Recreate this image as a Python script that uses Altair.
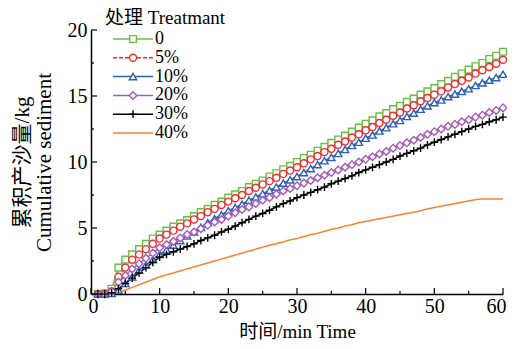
import altair as alt
import pandas as pd

time = list(range(1, 61))
labels = ["0", "5%", "10%", "20%", "30%", "40%"]
colors = ["#6cbd45", "#f42a2a", "#2f5fb3", "#a35bb4", "#000000", "#f7812f"]

s0 = [0.0, 0.05, 0.4, 2.0, 2.6, 3.0, 3.4, 3.8, 4.2, 4.5,
      4.8, 5.1, 5.35, 5.6, 5.9, 6.2, 6.45, 6.75, 7.0, 7.3,
      7.55, 7.8, 8.1, 8.35, 8.6, 8.9, 9.15, 9.45, 9.7, 10.0,
      10.3, 10.55, 10.85, 11.15, 11.45, 11.7, 12.0, 12.3, 12.6, 12.9,
      13.15, 13.45, 13.7, 14.0, 14.25, 14.55, 14.8, 15.1, 15.35, 15.6,
      15.9, 16.15, 16.45, 16.7, 17.0, 17.25, 17.5, 17.8, 18.05, 18.35]
s5 = [0.0, 0.0, 0.2, 1.3, 2.0, 2.6, 3.0, 3.4, 3.8, 4.2,
      4.5, 4.8, 5.1, 5.35, 5.65, 5.9, 6.2, 6.45, 6.75, 7.0,
      7.25, 7.5, 7.8, 8.05, 8.3, 8.55, 8.8, 9.1, 9.35, 9.6,
      9.9, 10.2, 10.45, 10.75, 11.0, 11.3, 11.55, 11.85, 12.1, 12.4,
      12.65, 12.95, 13.2, 13.5, 13.75, 14.05, 14.3, 14.6, 14.85, 15.1,
      15.35, 15.65, 15.9, 16.15, 16.4, 16.7, 16.95, 17.2, 17.45, 17.75]
s10 = [0.0, 0.0, 0.05, 0.3, 0.8, 1.3, 1.8, 2.2, 2.6, 3.0,
       3.35, 3.7, 4.05, 4.4, 4.7, 5.05, 5.4, 5.7, 6.0, 6.3,
       6.55, 6.8, 7.1, 7.35, 7.6, 7.85, 8.1, 8.4, 8.65, 8.9,
       9.2, 9.5, 9.8, 10.1, 10.35, 10.65, 10.95, 11.25, 11.5, 11.8,
       12.05, 12.35, 12.6, 12.9, 13.15, 13.45, 13.7, 14.0, 14.25, 14.5,
       14.7, 14.95, 15.15, 15.35, 15.55, 15.8, 16.0, 16.2, 16.4, 16.65]
s20 = [0.0, 0.0, 0.2, 0.9, 1.4, 1.9, 2.3, 2.7, 3.1, 3.5,
       3.75, 4.0, 4.25, 4.5, 4.7, 4.95, 5.2, 5.45, 5.65, 5.9,
       6.15, 6.4, 6.6, 6.85, 7.1, 7.3, 7.55, 7.8, 8.0, 8.2,
       8.4, 8.6, 8.8, 9.0, 9.2, 9.4, 9.6, 9.8, 10.0, 10.2,
       10.4, 10.6, 10.8, 11.05, 11.25, 11.45, 11.65, 11.85, 12.1, 12.3,
       12.5, 12.7, 12.85, 13.05, 13.2, 13.4, 13.55, 13.75, 13.9, 14.1]
s30 = [0.0, 0.0, 0.1, 0.4, 0.8, 1.2, 1.6, 2.0, 2.4, 2.8,
       3.0, 3.2, 3.4, 3.6, 3.8, 4.05, 4.25, 4.45, 4.7, 4.9,
       5.15, 5.4, 5.65, 5.9, 6.1, 6.35, 6.6, 6.85, 7.05, 7.3,
       7.5, 7.7, 7.9, 8.1, 8.35, 8.55, 8.75, 8.95, 9.2, 9.4,
       9.6, 9.8, 10.0, 10.2, 10.45, 10.65, 10.85, 11.05, 11.3, 11.5,
       11.7, 11.9, 12.1, 12.3, 12.5, 12.7, 12.85, 13.05, 13.2, 13.4]
s40 = [0.0, 0.0, 0.0, 0.1, 0.3, 0.5, 0.7, 0.9, 1.1, 1.3,
       1.45, 1.6, 1.75, 1.9, 2.05, 2.2, 2.35, 2.5, 2.65, 2.8,
       2.95, 3.1, 3.25, 3.4, 3.55, 3.7, 3.8, 3.95, 4.1, 4.2,
       4.35, 4.5, 4.6, 4.75, 4.9, 5.0, 5.15, 5.25, 5.4, 5.5,
       5.6, 5.7, 5.8, 5.9, 6.0, 6.1, 6.2, 6.3, 6.45, 6.55,
       6.65, 6.75, 6.85, 6.95, 7.05, 7.15, 7.2, 7.2, 7.2, 7.2]
series = [s0, s5, s10, s20, s30, s40]

x_major = [0, 10, 20, 30, 40, 50, 60]
x_minor = [5, 15, 25, 35, 45, 55]
y_major = [0, 5, 10, 15, 20]
y_minor = [2.5, 7.5, 12.5, 17.5]

rows = []
for lab, vals in zip(labels, series):
    for t, v in zip(time, vals):
        rows.append({"t": t, "v": v, "trt": lab})
df = pd.DataFrame(rows)

FONT = "Liberation Serif, Noto Sans CJK SC"
W, H = 412, 264

shapes = ["square", "circle", "triangle-up", "diamond", "M-1,0L1,0M0,-1L0,1", "circle"]
dashes = [[1, 0], [4, 2], [1, 0], [1, 0], [1, 0], [1, 0]]
sizes = [46, 64, 55, 52, 64, 0]

color_scale = alt.Scale(domain=labels, range=colors)
shape_scale = alt.Scale(domain=labels, range=shapes)
dash_scale = alt.Scale(domain=labels, range=dashes)
size_scale = alt.Scale(domain=labels, range=sizes)

x_enc = alt.X("t:Q", scale=alt.Scale(domain=[0, 60], nice=False),
              axis=alt.Axis(values=x_major, title="时间/min Time", titleY=43,
                            titleBaseline="alphabetic", labelPadding=2,
                            labelFlush=True, labelFlushOffset=3))
y_enc = alt.Y("v:Q", scale=alt.Scale(domain=[0, 20], nice=False),
              axis=alt.Axis(values=y_major, title=["累积产沙量/kg", "Cumulative sediment"],
                            titleX=-80, titleY=H / 2, titleAlign="center",
                            titleBaseline="top", titleLineHeight=22, titleFontSize=21,
                            labelPadding=4))
col = alt.Color("trt:N", scale=color_scale, legend=None)

lines = alt.Chart(df).mark_line(strokeWidth=1.5).encode(
    x=x_enc, y=y_enc, color=col,
    strokeDash=alt.StrokeDash("trt:N", scale=dash_scale, legend=None))

points = alt.Chart(df).transform_filter("datum.trt != '40%'").mark_point(
    filled=False, fill="white", fillOpacity=1, strokeWidth=1.4, opacity=1).encode(
    x=x_enc, y=y_enc, color=col,
    shape=alt.Shape("trt:N", scale=shape_scale, legend=None),
    size=alt.Size("trt:N", scale=size_scale, legend=None))

def xtick_layer(vals, length):
    return alt.Chart(pd.DataFrame({"t": vals})).mark_rule(
        color="black", strokeWidth=1.2).encode(
        x=x_enc, y=alt.value(H), y2=alt.value(H - length))

def ytick_layer(vals, length):
    return alt.Chart(pd.DataFrame({"v": vals})).mark_rule(
        color="black", strokeWidth=1.2).encode(
        y=y_enc, x=alt.value(0), x2=alt.value(length))

main = alt.layer(lines, points,
                 xtick_layer(x_major, 6), xtick_layer(x_minor, 3),
                 ytick_layer(y_major, 6), ytick_layer(y_minor, 3))

leg_df = pd.DataFrame({"trt": labels, "row": list(range(len(labels)))})
ly = alt.Y("row:O", scale=alt.Scale(type="point", range=[9, 103], padding=0), axis=None)
leg_line = alt.Chart(leg_df).mark_rule(strokeWidth=1.5).encode(
    x=alt.value(22), x2=alt.value(62), y=ly, color=col,
    strokeDash=alt.StrokeDash("trt:N", scale=dash_scale, legend=None))
leg_pts = alt.Chart(leg_df).transform_filter("datum.trt != '40%'").mark_point(
    filled=False, fill="white", fillOpacity=1, strokeWidth=1.4, opacity=1).encode(
    x=alt.value(42), y=ly, color=col,
    shape=alt.Shape("trt:N", scale=shape_scale, legend=None),
    size=alt.Size("trt:N", scale=size_scale, legend=None))
leg_txt = alt.Chart(leg_df).mark_text(align="left", baseline="middle", font=FONT,
                                      fontSize=18, color="black").encode(
    x=alt.value(64), y=ly, text="trt:N")
leg_title = alt.Chart(pd.DataFrame({"k": [0]})).mark_text(
    align="left", baseline="alphabetic", font=FONT, fontSize=19, color="black").encode(
    x=alt.value(14), y=alt.value(-6), text=alt.value("处理 Treatmant"))
legend = alt.layer(leg_line, leg_pts, leg_txt, leg_title)

chart = alt.layer(main, legend).resolve_scale(y="independent").properties(
    width=W, height=H,
    autosize=alt.AutoSizeParams(type="none"),
    padding={"left": 83, "top": 22, "right": 4, "bottom": 46},
).configure_view(stroke=None).configure_axis(
    grid=False, ticks=False, domainColor="black", domainWidth=1.5,
    labelFont=FONT, labelFontSize=20, labelColor="black",
    titleFont=FONT, titleFontSize=19, titleFontWeight="normal", titleColor="black",
)

chart.save("out.html", embed_options={"renderer": "svg", "actions": False})
